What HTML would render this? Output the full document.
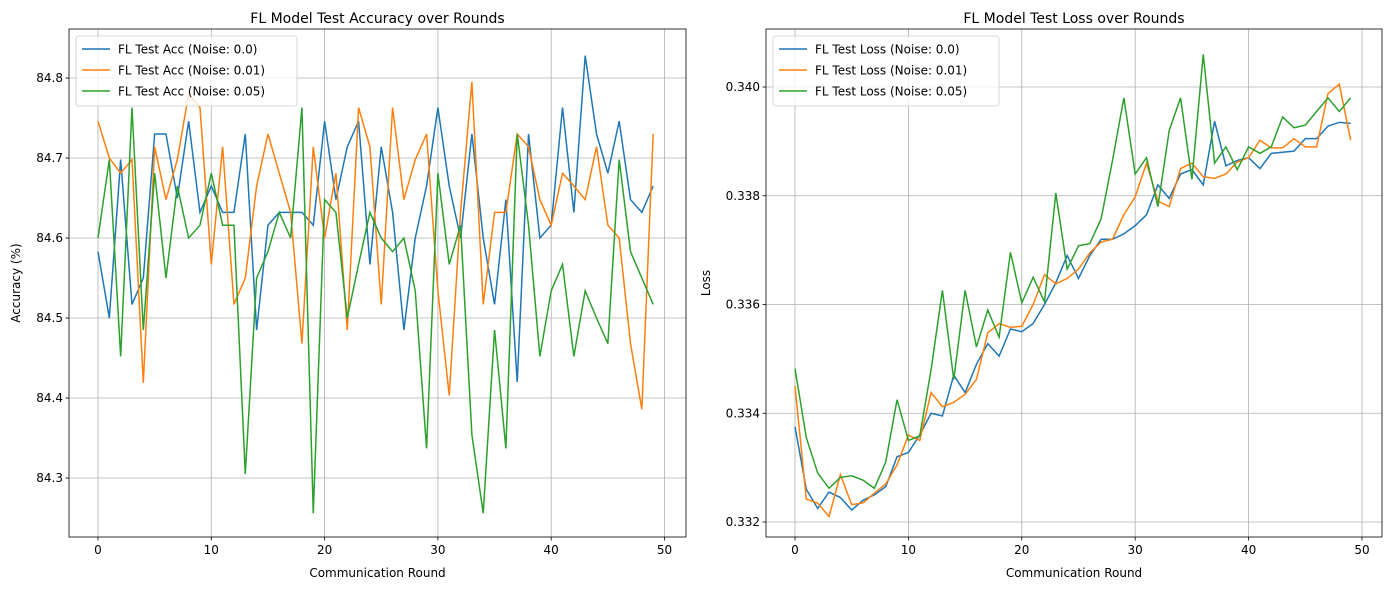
<!DOCTYPE html>
<html><head><meta charset="utf-8"><style>
body{margin:0;background:#fff;}
svg{display:block;font-family:"DejaVu Sans","Liberation Sans",sans-serif;}
</style></head><body>
<svg id="fig" width="1389" height="590"></svg>
<script>
const rounds = Array.from({length:50},(_,i)=>i);
const accNoise0 = [84.583,84.50,84.698,84.517,84.55,84.73,84.73,84.65,84.746,84.632,84.665,84.632,84.632,84.73,84.485,84.616,84.632,84.632,84.632,84.616,84.746,84.648,84.714,84.746,84.567,84.714,84.632,84.485,84.60,84.665,84.763,84.665,84.60,84.73,84.60,84.517,84.648,84.42,84.73,84.60,84.616,84.763,84.632,84.828,84.73,84.681,84.746,84.648,84.632,84.665];
const accNoise01 = [84.746,84.70,84.681,84.698,84.419,84.714,84.648,84.698,84.78,84.763,84.567,84.714,84.517,84.55,84.665,84.73,84.681,84.632,84.468,84.714,84.60,84.681,84.485,84.763,84.714,84.517,84.763,84.648,84.698,84.73,84.534,84.403,84.632,84.795,84.517,84.632,84.632,84.73,84.714,84.648,84.616,84.681,84.665,84.648,84.714,84.616,84.60,84.468,84.386,84.73];
const accNoise05 = [84.60,84.698,84.452,84.763,84.485,84.681,84.55,84.665,84.60,84.616,84.681,84.616,84.616,84.305,84.55,84.583,84.632,84.60,84.763,84.256,84.648,84.632,84.50,84.567,84.632,84.60,84.583,84.60,84.534,84.337,84.681,84.567,84.616,84.354,84.256,84.485,84.337,84.73,84.616,84.452,84.534,84.567,84.452,84.534,84.50,84.468,84.698,84.583,84.55,84.517];
const lossNoise0 = [0.33375,0.3326,0.33225,0.33255,0.33245,0.33222,0.3324,0.3325,0.33265,0.3332,0.33328,0.3336,0.3340,0.33395,0.3347,0.33438,0.3349,0.33528,0.33505,0.33555,0.3355,0.33565,0.3360,0.3364,0.3369,0.33648,0.3369,0.3372,0.3372,0.3373,0.33745,0.33765,0.3382,0.33795,0.3384,0.33848,0.3382,0.33937,0.33855,0.33865,0.3387,0.3385,0.33878,0.3388,0.33882,0.33905,0.33905,0.33928,0.33935,0.33933];
const lossNoise01 = [0.3345,0.33242,0.33235,0.3321,0.33287,0.33232,0.33235,0.33253,0.3327,0.33305,0.3336,0.3335,0.33438,0.33412,0.3342,0.33435,0.33462,0.33548,0.33565,0.33558,0.3356,0.3360,0.33655,0.33638,0.33648,0.33665,0.33695,0.33715,0.3372,0.33765,0.33798,0.3386,0.3379,0.3378,0.3385,0.3386,0.33835,0.33832,0.3384,0.33862,0.3387,0.33902,0.33888,0.33888,0.33905,0.3389,0.3389,0.33988,0.34005,0.33902];
const lossNoise05 = [0.33482,0.33355,0.3329,0.33262,0.33282,0.33285,0.33277,0.33262,0.3331,0.33425,0.3335,0.33358,0.3348,0.33626,0.33462,0.33626,0.33522,0.3359,0.3354,0.33696,0.33603,0.3365,0.33605,0.33805,0.33665,0.33708,0.33712,0.33758,0.33865,0.3398,0.3384,0.3387,0.3378,0.3392,0.3398,0.3383,0.3406,0.3386,0.3389,0.33848,0.3389,0.33878,0.3389,0.33945,0.33925,0.3393,0.33955,0.3398,0.33955,0.3398];
const xTicks = [0,10,20,30,40,50];
const accTicks = [84.3,84.4,84.5,84.6,84.7,84.8];
const lossTicks = [0.332,0.334,0.336,0.338,0.340];
const colors = ['#1f77b4','#ff7f0e','#2ca02c'];
const NS='http://www.w3.org/2000/svg';
const svg=document.getElementById('fig');
function mk(tag,attrs,parent){const e=document.createElementNS(NS,tag);for(const k in attrs)e.setAttribute(k,attrs[k]);(parent||svg).appendChild(e);return e;}

function panel(cfg){
  const g=mk('g',{});
  
  
  const {x0,x1,y0,y1}=cfg;
  const sx=v=>cfg.px0+(v-0)*(cfg.px10-cfg.px0)/10;
  const sy=v=>cfg.pyA+(v-cfg.vA)*(cfg.pyB-cfg.pyA)/(cfg.vB-cfg.vA);
  // grid
  xTicks.forEach(t=>{const X=sx(t);mk('line',{x1:X,x2:X,y1:y0,y2:y1,stroke:'#b0b0b0','stroke-width':0.8},g);
    mk('line',{x1:X,x2:X,y1:y1,y2:y1+3.5,stroke:'#000','stroke-width':0.8},g);
    const tx=mk('text',{x:X,y:y1+17,'font-size':12,'text-anchor':'middle'},g);tx.textContent=t;
    
    });
  cfg.yTicks.forEach(t=>{const Y=sy(t);mk('line',{x1:x0,x2:x1,y1:Y,y2:Y,stroke:'#b0b0b0','stroke-width':0.8},g);
    mk('line',{x1:x0-3.5,x2:x0,y1:Y,y2:Y,stroke:'#000','stroke-width':0.8},g);
    const tx=mk('text',{x:x0-6,y:Y+4,'font-size':12,'text-anchor':'end'},g);tx.textContent=cfg.fmt(t);
    
    });
  const cp=mk('clipPath',{id:cfg.name+'-clip'},g);mk('rect',{x:x0,y:y0,width:x1-x0,height:y1-y0},cp);
  cfg.series.forEach((s,i)=>{
    const p=mk('polyline',{points:rounds.map((r,j)=>sx(r)+','+sy(s[j])).join(' '),fill:'none',stroke:colors[i],'stroke-width':1.5,'clip-path':'url(#'+cfg.name+'-clip)'},g);
    
    
  });
  mk('rect',{x:x0,y:y0,width:x1-x0,height:y1-y0,fill:'none',stroke:'#000','stroke-width':0.8},g);
  const ti=mk('text',{x:(x0+x1)/2,y:y0-6,'font-size':14,'text-anchor':'middle'},g);ti.textContent=cfg.title;
  
  
  const xl=mk('text',{x:(x0+x1)/2,y:577,'font-size':12,'text-anchor':'middle'},g);xl.textContent='Communication Round';
  
  
  const yl=mk('text',{x:0,y:0,'font-size':12,'text-anchor':'middle',transform:`translate(${cfg.ylx},${(y0+y1)/2}) rotate(-90)`},g);yl.textContent=cfg.ylabel;
  
  
  // legend
  const lg=mk('g',{},g);
  
  
  mk('rect',{x:x0+7,y:y0+7,width:cfg.lw,height:70,rx:3,fill:'#fff','fill-opacity':0.8,stroke:'#ccc','stroke-width':0.8},lg);
  cfg.labels.forEach((l,i)=>{const Y=y0+20+i*21;
    mk('line',{x1:x0+13,x2:x0+41,y1:Y,y2:Y,stroke:colors[i],'stroke-width':1.5},lg);
    const t=mk('text',{x:x0+49,y:Y+4.5,'font-size':12},lg);t.textContent=l;
    
    });
}
panel({name:'accuracy-chart',x0:69,x1:686,y0:29,y1:537,px0:98,px10:211.3,pyA:478,vA:84.3,pyB:78,vB:84.8,
  yTicks:accTicks,fmt:t=>t.toFixed(1),series:[accNoise0,accNoise01,accNoise05],title:'FL Model Test Accuracy over Rounds',
  ylabel:'Accuracy (%)',ylx:20,lw:221,labels:['FL Test Acc (Noise: 0.0)','FL Test Acc (Noise: 0.01)','FL Test Acc (Noise: 0.05)']});
panel({name:'loss-chart',x0:766,x1:1382,y0:29,y1:537,px0:795,px10:908.4,pyA:522,vA:0.332,pyB:87,vB:0.340,
  yTicks:lossTicks,fmt:t=>t.toFixed(3),series:[lossNoise0,lossNoise01,lossNoise05],title:'FL Model Test Loss over Rounds',
  ylabel:'Loss',ylx:710,lw:226,labels:['FL Test Loss (Noise: 0.0)','FL Test Loss (Noise: 0.01)','FL Test Loss (Noise: 0.05)']});
</script>
</body></html>
